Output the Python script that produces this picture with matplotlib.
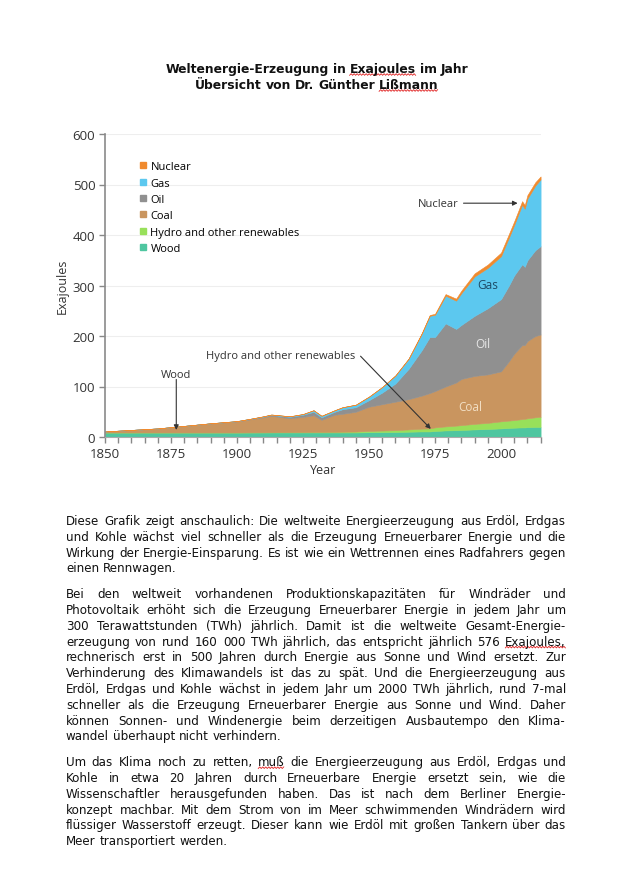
import numpy as np
import matplotlib
matplotlib.use('Agg')
import matplotlib.pyplot as plt
from matplotlib.lines import Line2D

# world energy by source, exajoules
years = [1850, 1860, 1870, 1880, 1890, 1900, 1905, 1910, 1913, 1916, 1920, 1925,
         1929, 1932, 1937, 1940, 1945, 1950, 1955, 1960, 1965, 1970, 1973, 1975,
         1979, 1983, 1985, 1990, 1995, 2000, 2003, 2005, 2008, 2009, 2010, 2013, 2015]
wood = [9, 9, 9, 9, 9, 9, 9, 9, 9, 9, 9, 9,
        9, 9, 9, 9, 9, 9.5, 9.8, 10, 10.5, 11, 11, 12,
        13, 13.5, 14, 15, 16, 17, 18, 18.5, 19, 19, 19.5, 20, 20]
hydro = [0, 0, 0, 0, 0, 0, 0.2, 0.3, 0.4, 0.5, 0.6, 0.8,
         1, 1, 1.3, 1.5, 1.8, 2.5, 3, 3.5, 4.5, 5.5, 6, 7,
         8, 9, 9.5, 11, 12, 14, 14.5, 15, 16.5, 17, 17.5, 19, 20]
coal = [2, 5, 8, 13, 18, 22, 25.8, 29.7, 32.6, 30.5, 27.4, 30.2,
        33, 24, 33.7, 35.5, 39.2, 48, 52.2, 56.5, 60, 65.5, 70, 72,
        79, 85.5, 91.5, 95, 96, 99, 117.5, 131.5, 146.5, 146, 153, 161, 163]
oil = [0, 0, 0, 0, 0.2, 0.5, 1, 1.5, 2, 2, 3, 4,
       7, 5, 6, 9, 9, 13, 23, 36, 60, 90, 111, 107,
       125, 106, 107, 119, 131, 143, 150, 155, 160, 155, 160, 170, 175]
gas = [0, 0, 0, 0, 0, 0, 0, 0.5, 0.5, 1, 1, 1.5,
       3, 3, 3, 4, 5, 7, 11, 16, 20, 33, 42, 44,
       55, 56, 63, 78, 80, 85, 95, 100, 118, 115, 122, 128, 132]
nuclear = [0, 0, 0, 0, 0, 0, 0, 0, 0, 0, 0, 0,
           0, 0, 0, 0, 0, 0, 0, 0, 0.3, 1, 1.5, 2,
           3, 4, 5, 6, 6.5, 7, 7, 7, 7, 7, 7, 6.5, 6]

source_names = ['Wood', 'Hydro and other renewables', 'Coal', 'Oil', 'Gas', 'Nuclear']
source_colors = ['#4fc6a0', '#98e05a', '#c9955f', '#909090', '#5cc8ef', '#f08a2e']

title_lines = ['Weltenergie-Erzeugung in Exajoules im Jahr',
               'Übersicht von Dr. Günther Lißmann']

paragraphs = [
    ['Diese Grafik zeigt anschaulich: Die weltweite Energieerzeugung aus Erdöl, Erdgas',
     'und Kohle wächst viel schneller als die Erzeugung Erneuerbarer Energie und die',
     'Wirkung der Energie-Einsparung. Es ist wie ein Wettrennen eines Radfahrers gegen',
     'einen Rennwagen.'],
    ['Bei den weltweit vorhandenen Produktionskapazitäten für Windräder und',
     'Photovoltaik erhöht sich die Erzeugung Erneuerbarer Energie in jedem Jahr um',
     '300 Terawattstunden (TWh) jährlich. Damit ist die weltweite Gesamt-Energie-',
     'erzeugung von rund 160 000 TWh jährlich, das entspricht jährlich 576 Exajoules,',
     'rechnerisch erst in 500 Jahren durch Energie aus Sonne und Wind ersetzt. Zur',
     'Verhinderung des Klimawandels ist das zu spät. Und die Energieerzeugung aus',
     'Erdöl, Erdgas und Kohle wächst in jedem Jahr um 2000 TWh jährlich, rund 7-mal',
     'schneller als die Erzeugung Erneuerbarer Energie aus Sonne und Wind. Daher',
     'können Sonnen- und Windenergie beim derzeitigen Ausbautempo den Klima-',
     'wandel überhaupt nicht verhindern.'],
    ['Um das Klima noch zu retten, muß die Energieerzeugung aus Erdöl, Erdgas und',
     'Kohle in etwa 20 Jahren durch Erneuerbare Energie ersetzt sein, wie die',
     'Wissenschaftler herausgefunden haben. Das ist nach dem Berliner Energie-',
     'konzept machbar. Mit dem Strom von im Meer schwimmenden Windrädern wird',
     'flüssiger Wasserstoff erzeugt. Dieser kann wie Erdöl mit großen Tankern über das',
     'Meer transportiert werden.'],
]
# words with the red spell-check squiggle
marked = ['Exajoules', 'Lißmann', 'Exajoules,', 'muß']

W_PX, H_PX = 627, 870
fig = plt.figure(figsize=(W_PX / 100, H_PX / 100), dpi=100)
fig.patch.set_facecolor('white')

chart_font = 'Open Sans'
ax = fig.add_axes([105 / W_PX, 1 - 438 / H_PX, 435.6 / W_PX, 303 / H_PX])
polys = ax.stackplot(years, wood, hydro, coal, oil, gas, nuclear,
                     colors=source_colors, linewidth=0.4)
for p, c in zip(polys, source_colors):
    p.set_edgecolor(c)

ax.set_xlim(1850, 2015)
ax.set_ylim(0, 600)
ax.set_xticks(range(1850, 2001, 25))
ax.set_xticks(range(1850, 2016, 5), minor=True)
ax.set_yticks(range(0, 601, 100))
ax.tick_params(which='both', direction='out', length=4, width=1, color='#888888',
               labelsize=9.5, labelcolor='#333333', pad=3)
for lab in ax.get_xticklabels() + ax.get_yticklabels():
    lab.set_family(chart_font)
for s in ['top', 'right']:
    ax.spines[s].set_visible(False)
ax.spines['left'].set_color('#8a8a8a')
ax.spines['left'].set_linewidth(1.2)
ax.spines['bottom'].set_color('#aaaaaa')
ax.spines['bottom'].set_linewidth(0.8)
ax.yaxis.grid(True, color='#eeeeee', lw=0.8)
ax.set_axisbelow(True)

ax.text(-0.097, 0.5, 'Exajoules', transform=ax.transAxes, rotation=90,
        ha='center', va='center', fontsize=9, family=chart_font, color='#333333')
ax.text(0.5, -0.106, 'Year', transform=ax.transAxes, ha='center', va='center',
        fontsize=9, family=chart_font, color='#333333')

# legend, top entry first
handles = [Line2D([], [], ls='none', marker='s', markersize=4.5, color=c)
           for c in source_colors[::-1]]
ax.legend(handles, source_names[::-1], loc='upper left', bbox_to_anchor=(0.07, 0.925),
          frameon=False, handlelength=0.6, handletextpad=0.35, labelspacing=0.48,
          borderaxespad=0, prop={'family': chart_font, 'size': 8})

arrow = dict(arrowstyle='-|>', color='#333333', lw=0.8, mutation_scale=7,
             shrinkA=0, shrinkB=0)
txt = dict(family=chart_font, fontsize=8, color='#333333', ha='center', va='center')
ax.text(1877, 124, 'Wood', **txt)
ax.annotate('', xy=(1877, 14), xytext=(1877, 114), arrowprops=arrow)
ax.text(1916.6, 161, 'Hydro and other renewables', **txt)
ax.annotate('', xy=(1973.4, 16), xytext=(1946.8, 160), arrowprops=arrow)
ax.text(1976.4, 463, 'Nuclear', **txt)
ax.annotate('', xy=(2006.3, 463), xytext=(1985.8, 463), arrowprops=arrow)
ax.text(1995, 301, 'Gas', family=chart_font, fontsize=8.5, color='#1d4a66',
        ha='center', va='center')
ax.text(1993, 185, 'Oil', family=chart_font, fontsize=8.5, color='#e8e8e8',
        ha='center', va='center')
ax.text(1988.5, 61, 'Coal', family=chart_font, fontsize=8.5, color='#f2dfc4',
        ha='center', va='center')

# document text, word by word so lines can be justified
renderer = fig.canvas.get_renderer()


def put_words(line, x_left, base_px, size, weight='normal', width=None, center=None):
    words = line.split(' ')
    texts = [fig.text(0, 1 - base_px / H_PX, w, fontsize=size, fontweight=weight,
                      family='DejaVu Sans', va='baseline', ha='left', color='#111111')
             for w in words]
    widths = [t.get_window_extent(renderer).width for t in texts]
    space = size * 100 / 72 * 0.318
    if width is not None and len(words) > 1:
        space = (width - sum(widths)) / (len(words) - 1)
    if center is not None:
        x_left = center - (sum(widths) + space * (len(words) - 1)) / 2
    x = x_left
    for t, w, word in zip(texts, widths, words):
        t.set_x(x / W_PX)
        if word in marked:
            xs = np.arange(x, x + w, 1.5)
            ys = base_px + 2.5 + 0.8 * (-1) ** np.arange(len(xs))
            fig.add_artist(Line2D(xs / W_PX, 1 - ys / H_PX, color='#e02020', lw=0.6))
        x += w + space


for i, line in enumerate(title_lines):
    put_words(line, 0, 73 + i * 16, 8.9, weight='bold', center=317)

left, right = 66, 566
base = 525
line_h = 15.8
for para in paragraphs:
    for j, line in enumerate(para):
        last = j == len(para) - 1
        put_words(line, left, base, 8.6, width=None if last else right - left)
        base += line_h
    base += 10

fig.savefig('out.png', dpi=100)
